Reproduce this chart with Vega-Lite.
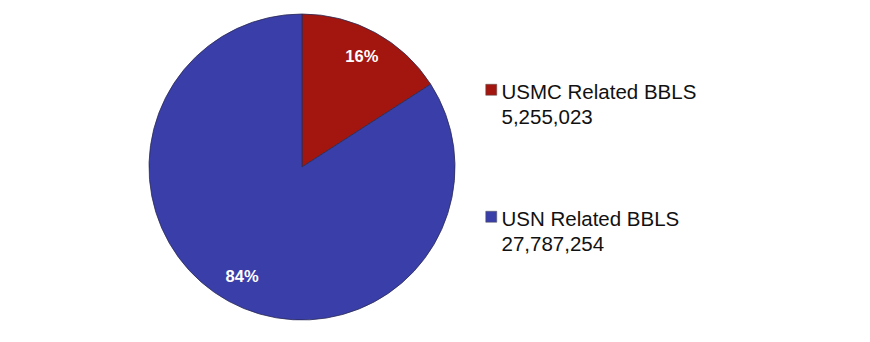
{
  "$schema": "https://vega.github.io/schema/vega-lite/v6.json",
  "width": 306,
  "height": 306,
  "autosize": {"type": "none"},
  "padding": {"left": 149, "top": 14, "right": 415, "bottom": 22},
  "background": "white",
  "config": {"view": {"stroke": null}},
  "data": {
    "values": [
      {"category": "USMC Related BBLS", "value": 5255023, "display": "5,255,023", "pct": "16%", "order": 1},
      {"category": "USN Related BBLS", "value": 27787254, "display": "27,787,254", "pct": "84%", "order": 2}
    ]
  },
  "encoding": {
    "theta": {"field": "value", "type": "quantitative", "stack": true},
    "order": {"field": "order", "type": "quantitative"}
  },
  "layer": [
    {
      "mark": {"type": "arc", "outerRadius": 153, "stroke": "#2b2b55", "strokeWidth": 0.8},
      "encoding": {
        "color": {
          "field": "category",
          "type": "nominal",
          "sort": ["USMC Related BBLS", "USN Related BBLS"],
          "scale": {"domain": ["USMC Related BBLS", "USN Related BBLS"], "range": ["#a3160f", "#3a3ea8"]},
          "legend": {
            "orient": "none",
            "legendX": 332,
            "legendY": 65.5,
            "title": null,
            "symbolType": "square",
            "symbolSize": 121,
            "symbolStrokeColor": "#555555",
            "symbolStrokeWidth": 0.5,
            "labelFont": "Liberation Sans",
            "labelFontSize": 20.5,
            "labelColor": "#111111",
            "labelLimit": 400,
            "labelBaseline": "top",
            "labelOffset": 0,
            "labelExpr": "[datum.label, datum.label == 'USMC Related BBLS' ? '5,255,023' : '27,787,254']",
            "rowPadding": 78,
            "encode": {
              "labels": {"update": {"dy": {"value": -7}, "lineHeight": {"value": 25}}}
            }
          }
        }
      }
    },
    {
      "mark": {"type": "text", "radius": 125, "font": "Liberation Sans", "fontSize": 16.5, "fontWeight": "bold", "color": "white"},
      "encoding": {"text": {"field": "pct"}}
    }
  ]
}
